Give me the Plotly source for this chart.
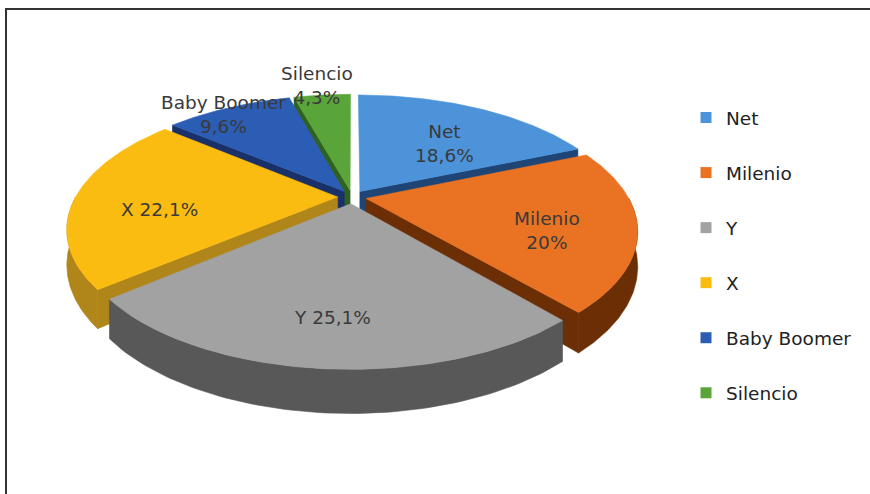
import numpy as np
import plotly.graph_objects as go

labels = ["Net", "Milenio", "Y", "X", "Baby Boomer", "Silencio"]
values = [18.6, 20.0, 25.1, 22.1, 9.6, 4.3]
text_labels = ["Net<br>18,6%", "Milenio<br>20%", "Y 25,1%", "X 22,1%", "Baby Boomer<br>9,6%", "Silencio<br>4,3%"]

top_colors = ["#4d93d9", "#ea7223", "#a2a2a2", "#fbbc12", "#2c5db4", "#5aa53a"]
wall_colors = ["#1e4575", "#6b2e05", "#585858", "#b0861a", "#1a3068", "#2f621f"]

# projection parameters (screen pixels, y downward)
cx, cy, A, B, k, D, pull = 352, 197, 262, 122, 0.24, 33, 0.055
FONT = "DejaVu Sans"

fig = go.Figure()

total = sum(values)
bounds = np.cumsum([0] + values) / total * 2 * np.pi


def proj(u, v, z=0.0):
    w = 1 - k * v
    return cx + A * u / w, cy + B * v / w + z * D / w


slices = []
for i in range(len(values)):
    a0, a1 = bounds[i], bounds[i + 1]
    mid = (a0 + a1) / 2
    pu, pv = pull * np.sin(mid), -pull * np.cos(mid)
    slices.append((i, a0, a1, mid, pu, pv))


def rim(a, pu, pv, r=1.0, z=0.0):
    return proj(pu + r * np.sin(a), pv - r * np.cos(a), z)


def poly(xs, ys, color):
    fig.add_trace(go.Scatter(
        x=list(xs), y=list(ys), mode="lines", fill="toself", fillcolor=color,
        line=dict(color=color, width=0.6), hoverinfo="skip", showlegend=False))


order = sorted(slices, key=lambda s: -np.cos(s[3]))
for i, a0, a1, mid, pu, pv in order:
    ox, oy = proj(pu, pv)
    bx, by = proj(pu, pv, 1)
    # radial walls facing the viewer
    for a, nrm in ((a0, a0 - np.pi / 2), (a1, a1 + np.pi / 2)):
        if np.cos(nrm) < 0:
            ex, ey = rim(a, pu, pv)
            fx, fy = rim(a, pu, pv, z=1)
            poly([ox, ex, fx, bx, ox], [oy, ey, fy, by, oy], wall_colors[i])
    # outer wall (front half)
    lo, hi = max(a0, np.pi / 2), min(a1, 3 * np.pi / 2)
    if hi > lo:
        aa = np.linspace(lo, hi, 80)
        tx, ty = rim(aa, pu, pv)
        qx, qy = rim(aa, pu, pv, z=1)
        poly(np.concatenate([tx, qx[::-1], tx[:1]]),
             np.concatenate([ty, qy[::-1], ty[:1]]), wall_colors[i])
    # top face
    aa = np.linspace(a0, a1, 100)
    tx, ty = rim(aa, pu, pv)
    poly(np.concatenate([[ox], tx, [ox]]), np.concatenate([[oy], ty, [oy]]), top_colors[i])

# data labels: large slices inside, small slices near/over the rim
for i, a0, a1, mid, pu, pv in slices:
    if values[i] > 15:
        f, shift = 0.68, -12
    else:
        f, shift = 1.05 + (9.6 - values[i]) * 0.04, -10
    lx, ly = rim(mid, pu, pv, r=f)
    fig.add_annotation(x=lx, y=ly, xref="x", yref="y", text=text_labels[i],
                       showarrow=False, yshift=shift,
                       font=dict(family=FONT, size=18.5, color="#3a3a3a"))

# legend entries
for i, name in enumerate(labels):
    fig.add_trace(go.Scatter(
        x=[None], y=[None], mode="markers", name=name, legendgroup=name,
        marker=dict(symbol="square", size=11, color=top_colors[i])))

fig.update_layout(
    width=870, height=494,
    margin=dict(l=0, r=0, t=0, b=0),
    paper_bgcolor="white", plot_bgcolor="white",
    xaxis=dict(range=[0, 870], visible=False, fixedrange=True),
    yaxis=dict(range=[494, 0], visible=False, fixedrange=True),
    legend=dict(x=686 / 870, y=1 - 99 / 494, xanchor="left", yanchor="top",
                font=dict(family=FONT, size=18.5, color="#222222"),
                tracegroupgap=28, itemwidth=30, traceorder="grouped",
                bgcolor="rgba(0,0,0,0)"),
    showlegend=True,
    shapes=[dict(type="rect", xref="paper", yref="paper",
                 x0=6 / 870, x1=1.05, y0=-0.1, y1=1 - 9 / 494,
                 line=dict(color="#333333", width=2))],
)

fig.write_html("out.html")
